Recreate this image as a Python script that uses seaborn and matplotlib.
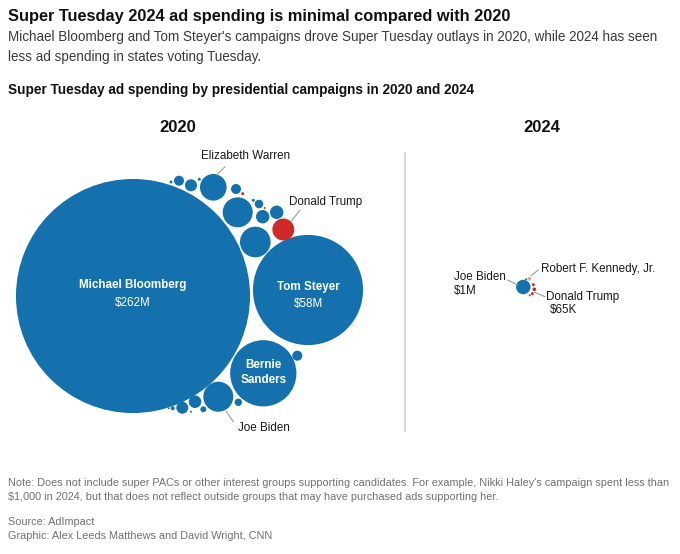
import matplotlib
matplotlib.use("Agg")
import matplotlib.pyplot as plt
import seaborn as sns
import pandas as pd
import numpy as np

# ---------------- data (ad spending, $ millions) ----------------
cands_2020 = ["Michael Bloomberg", "Tom Steyer", "Bernie Sanders", "Elizabeth Warren",
              "Joe Biden", "Donald Trump", "Other A", "Other B", "Other C", "Other D",
              "Other E", "Other F", "Other G", "Other H", "Other I", "Other J", "Other K",
              "Other L", "Other M", "Other N", "Other O", "Other P", "Other Q", "Other R",
              "Other S", "Other T", "Other U", "Other V"]
spend_2020 = [262, 58, 21, 3.4, 4.3, 2.3, 4.3, 4.5, 0.69, 0.48, 0.043, 0.043, 0.48,
              0.043, 0.043, 0.35, 0.019, 0.86, 0.86, 0.019, 0.48, 0.26, 0.76, 0.69,
              0.17, 0.077, 0.019, 0.019]
party_2020 = ["D", "D", "D", "D", "D", "R", "D", "D", "D", "D", "D", "D", "D", "R",
              "D", "D", "R", "D", "D", "R", "D", "D", "D", "D", "D", "D", "D", "D"]

cands_2024 = ["Joe Biden", "Robert F. Kennedy, Jr.", "Donald Trump", "Other R1",
              "Other R2", "Other R3", "Other D1"]
spend_2024 = [1.0, 0.077, 0.065, 0.043, 0.043, 0.019, 0.019]
party_2024 = ["D", "I", "R", "R", "R", "R", "D"]

# ---------------- layout (packed circle centres, canvas pixels) ----------------
pos_x_2020 = [133, 308, 263.3, 213.3, 218.3, 283.3, 237.7, 255.3, 191, 179, 171, 199.3,
              236, 242.7, 253.3, 259, 264.7, 262.7, 276.7, 294.3, 297.3, 238.3, 195,
              182.3, 203.3, 172.7, 168.7, 191]
pos_y_2020 = [296, 290, 373.3, 187.3, 396.7, 229.5, 212.3, 242, 185.3, 180.7, 182, 179.3,
              189, 193.7, 200.3, 204, 208, 216.7, 212.3, 239, 355.7, 402.3, 401.7,
              407.7, 409.3, 408.3, 408.3, 411.7]
pos_x_2024 = [523.3, 529.3, 534.3, 533.3, 532.3, 529.7, 526]
pos_y_2024 = [287, 278.7, 289.3, 284.7, 293.7, 295.3, 279.3]

df = pd.DataFrame({
    "candidate": cands_2020 + cands_2024,
    "spend": spend_2020 + spend_2024,
    "party": party_2020 + party_2024,
    "x": pos_x_2020 + pos_x_2024,
    "y": pos_y_2020 + pos_y_2024,
})

BLUE = "#1471ad"
RED = "#cf2a2a"
TAN = "#d7b77c"
palette = {"D": BLUE, "R": RED, "I": TAN}

sns.set_style("white")
plt.rcParams["font.family"] = ["Liberation Sans", "DejaVu Sans"]

W, H = 680, 554
fig = plt.figure(figsize=(W / 100, H / 100), dpi=100)
ax = fig.add_axes([0, 0, 1, 1])

# circle radius (px) = K * sqrt($M); marker area in pt^2 = (2 r * 0.72)^2
K = 7.23
max_val = max(spend_2020)
s_max = (2 * K * np.sqrt(max_val) * 0.72) ** 2
sns.scatterplot(data=df, x="x", y="y", size="spend", sizes=(0, s_max),
                size_norm=(0, max_val), hue="party", palette=palette,
                linewidth=0, legend=False, ax=ax, alpha=1)

ax.set_xlim(0, W)
ax.set_ylim(H, 0)
ax.axis("off")

# ---------------- texts ----------------
ax.text(8, 20.7, "Super Tuesday 2024 ad spending is minimal compared with 2020",
        fontsize=11.8, fontweight="bold", color="#111111", va="baseline")
ax.text(8, 41.5, "Michael Bloomberg and Tom Steyer's campaigns drove Super Tuesday outlays in 2020, while 2024 has seen",
        fontsize=9.75, color="#3a3a3a", va="baseline")
ax.text(8, 61.2, "less ad spending in states voting Tuesday.",
        fontsize=9.75, color="#3a3a3a", va="baseline")
ax.text(8, 94.3, "Super Tuesday ad spending by presidential campaigns in 2020 and 2024",
        fontsize=9.85, fontweight="bold", color="#111111", va="baseline")

ax.text(178, 132, "2020", fontsize=12, fontweight="bold", color="#111111",
        ha="center", va="baseline")
ax.text(542, 132, "2024", fontsize=12, fontweight="bold", color="#111111",
        ha="center", va="baseline")

ax.plot([405, 405], [153, 431], color="#cfcfcf", lw=1.2)

# inside labels
def inside(i, lines, ys, bold):
    for t, yy, b in zip(lines, ys, bold):
        ax.text(pos_x_2020[i], yy, t, fontsize=8.4, color="white",
                fontweight="bold" if b else "normal", ha="center", va="baseline")

inside(0, ["Michael Bloomberg", f"${spend_2020[0]:.0f}M"], [288.3, 305.7], [True, False])
inside(1, ["Tom Steyer", f"${spend_2020[1]:.0f}M"], [290, 306.7], [True, False])
inside(2, ["Bernie", "Sanders"], [368.3, 382.7], [True, True])

LC = "#9a9a9a"
TC = "#1a1a1a"
LF = 8.4
# 2020 outside labels
ax.plot([216.7, 225], [175, 166.7], color=LC, lw=0.8)
ax.text(246, 159.3, "Elizabeth Warren", fontsize=LF, color=TC, ha="center", va="baseline")
ax.plot([291.7, 300], [220.7, 210], color=LC, lw=0.8)
ax.text(289.3, 205, "Donald Trump", fontsize=LF, color=TC, va="baseline")
ax.plot([226, 233.3], [411, 421.7], color=LC, lw=0.8)
ax.text(238.3, 431, "Joe Biden", fontsize=LF, color=TC, va="baseline")

# 2024 outside labels
ax.plot([507.7, 517.7], [280, 285], color=LC, lw=0.8)
ax.text(454, 280, "Joe Biden", fontsize=LF, color=TC, va="baseline")
ax.text(454, 294, "$1M", fontsize=LF, color=TC, va="baseline")
ax.plot([531, 538.3], [275.7, 270], color=LC, lw=0.8)
ax.text(541, 272.3, "Robert F. Kennedy, Jr.", fontsize=LF, color=TC, va="baseline")
ax.plot([534.3, 545], [292.3, 296.7], color=LC, lw=0.8)
ax.text(546, 300, "Donald Trump", fontsize=LF, color=TC, va="baseline")
ax.text(550, 313.3, "$65K", fontsize=LF, color=TC, va="baseline")

NC = "#707070"
NF = 7.8
ax.text(8, 486, "Note: Does not include super PACs or other interest groups supporting candidates. For example, Nikki Haley's campaign spent less than",
        fontsize=NF, color=NC, va="baseline")
ax.text(8, 499.5, "$1,000 in 2024, but that does not reflect outside groups that may have purchased ads supporting her.",
        fontsize=NF, color=NC, va="baseline")
ax.text(8, 525, "Source: AdImpact", fontsize=NF, color=NC, va="baseline")
ax.text(8, 539.3, "Graphic: Alex Leeds Matthews and David Wright, CNN", fontsize=NF, color=NC,
        va="baseline")

fig.savefig("out.png", dpi=100, facecolor="white")
